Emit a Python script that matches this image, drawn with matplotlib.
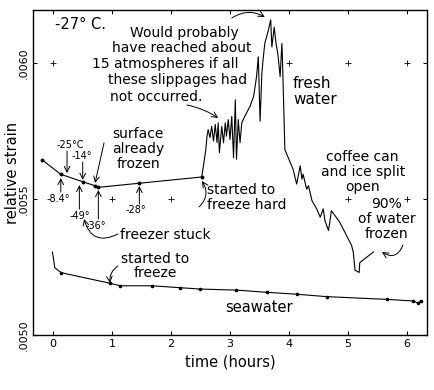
import matplotlib
matplotlib.use("Agg")
import matplotlib.pyplot as plt

# fresh water trace (hours, relative strain)
fresh_t = [-0.18, 0.13, 0.51, 0.71, 0.77, 1.46, 2.52, 2.55, 2.59, 2.61,
           2.63, 2.66, 2.69, 2.72, 2.75, 2.78, 2.80, 2.82, 2.86, 2.89,
           2.92, 2.94, 2.97, 3.00, 3.03, 3.06, 3.09, 3.11, 3.14, 3.17,
           3.20, 3.25, 3.34, 3.40, 3.45, 3.48, 3.51, 3.54, 3.56, 3.59,
           3.65, 3.69, 3.71, 3.75, 3.78, 3.81, 3.85, 3.88, 3.89, 3.93,
           4.07, 4.13, 4.19, 4.22, 4.24, 4.30, 4.33, 4.39, 4.47, 4.53,
           4.58, 4.61, 4.67, 4.72, 4.86, 5.06, 5.09, 5.12, 5.19, 5.20, 5.43]
fresh_y = [0.005643, 0.005591, 0.005563, 0.005549, 0.005543, 0.005558, 0.005581, 0.005622, 0.005682, 0.005731,
           0.005755, 0.005726, 0.005767, 0.005713, 0.005774, 0.005708, 0.005780, 0.005670, 0.005767, 0.005707,
           0.005780, 0.005731, 0.005792, 0.005719, 0.005804, 0.005652, 0.005865, 0.005646, 0.005792, 0.005707,
           0.005780, 0.005804, 0.005841, 0.005877, 0.005950, 0.006023, 0.005786, 0.005962, 0.006011, 0.006072,
           0.006120, 0.006159, 0.006059, 0.006132, 0.006072, 0.006036, 0.005950, 0.006072, 0.006011, 0.005682,
           0.005609, 0.005555, 0.005622, 0.005573, 0.005591, 0.005536, 0.005549, 0.005494, 0.005464, 0.005433,
           0.005464, 0.005420, 0.005384, 0.005457, 0.005415, 0.005330, 0.005305, 0.005238, 0.005230, 0.005266, 0.005305]

# seawater trace
sea_t = [-0.01, 0.03, 0.14, 0.97, 1.14, 1.67, 2.15, 2.49, 3.11, 3.62, 4.13, 4.64, 5.66, 6.11, 6.19, 6.23]
sea_y = [0.005305, 0.005247, 0.005229, 0.005190, 0.005181, 0.005181, 0.005174, 0.005169,
         0.005165, 0.005157, 0.005150, 0.005141, 0.005131, 0.005125, 0.005117, 0.005125]

x_ticks = [0, 1, 2, 3, 4, 5, 6]
y_ticks = [0.0050, 0.0055, 0.0060]
y_labels = [".0050", ".0055", ".0060"]

# "+" marks that are visible on the grid
plus_hi = [0, 4, 5, 6]
plus_lo = [1, 2, 5, 6]

# temperature notes: label, text x, text y, arrow tail, arrow head
temps = [
    ("-25°C", 0.30, 0.0056985, (0.237, 0.0056765), (0.237, 0.0055956)),
    ("-14°", 0.49, 0.0056581, (0.503, 0.0056360), (0.503, 0.0055699)),
    ("-8.4°", 0.08, 0.0055000, (0.131, 0.0055257), (0.131, 0.0055772)),
    ("-49°", 0.46, 0.0054375, (0.446, 0.0054632), (0.446, 0.0055515)),
    ("-36°", 0.72, 0.0054007, (0.768, 0.0054265), (0.768, 0.0055331)),
    ("-28°", 1.41, 0.0054596, (1.463, 0.0054816), (1.463, 0.0055478)),
]

note_lines = ["Would probably", "have reached about", "15 atmospheres if all",
              "these slippages had", "not occurred."]
note_x = [1.305, 1.00, 0.661, 0.932, 0.966]
note_y = [0.0061103, 0.0060551, 0.0059963, 0.0059375, 0.005875]

fig = plt.figure(figsize=(4.35, 3.9), dpi=100)
ax = fig.add_axes([33 / 435, 55 / 390, 394 / 435, 325 / 390])

ax.plot(fresh_t, fresh_y, color="black", lw=0.8)
ax.plot(fresh_t[:7], fresh_y[:7], "o", color="black", ms=1.8)
ax.plot(sea_t, sea_y, color="black", lw=0.8)
ax.plot(sea_t[2:], sea_y[2:], "o", color="black", ms=1.6)

ax.plot(plus_hi, [0.0060] * len(plus_hi), "+", color="black", ms=4, mew=0.6)
ax.plot(plus_lo, [0.0055] * len(plus_lo), "+", color="black", ms=4, mew=0.6)

ax.set_xlim(-0.34, 6.34)
ax.set_ylim(0.0050, 0.006195)
ax.set_xticks(x_ticks)
ax.set_xticklabels([str(v) for v in x_ticks], fontsize=8)
ax.set_yticks(y_ticks)
ax.set_yticklabels(y_labels, rotation=90, va="center", fontsize=8)
ax.tick_params(direction="in", length=3, width=0.8, top=True, right=True, pad=3)
for s in ax.spines.values():
    s.set_linewidth(1.0)

ax.set_xlabel("time (hours)", fontsize=10.5, labelpad=4)
ax.set_ylabel("relative strain", fontsize=10.5, labelpad=-1)

arr = dict(arrowstyle="->", color="black", lw=0.7, shrinkA=0, shrinkB=0)

ax.text(0.03, 0.006140, "-27° C.", fontsize=10.5, va="center")

for line, lx, ly in zip(note_lines, note_x, note_y):
    ax.text(lx, ly, line, fontsize=10, va="center")
ax.annotate("", xy=(2.80, 0.0057978), xytext=(2.27, 0.0058456),
            arrowprops=dict(arr, connectionstyle="arc3,rad=-0.1"))
ax.annotate("", xy=(3.59, 0.0061691), xytext=(3.03, 0.0061654),
            arrowprops=dict(arr, connectionstyle="arc3,rad=-0.3"))

ax.text(1.44, 0.0056838, "surface\nalready\nfrozen", fontsize=10, ha="center",
        va="center", linespacing=1.05)
ax.annotate("", xy=(0.712, 0.0055588), xytext=(0.864, 0.0057059), arrowprops=arr)

for lab, tx, ty, tail, head in temps:
    ax.text(tx, ty, lab, fontsize=7, ha="center", va="center")
    ax.annotate("", xy=head, xytext=tail, arrowprops=arr)

ax.text(1.14, 0.0053676, "freezer stuck", fontsize=10, va="center")
ax.annotate("", xy=(0.525, 0.0054265), xytext=(1.10, 0.0053713),
            arrowprops=dict(arr, connectionstyle="arc3,rad=-0.6"))

ax.text(2.61, 0.0055055, "started to\nfreeze hard", fontsize=10, va="center",
        linespacing=1.1)
ax.annotate("", xy=(2.525, 0.0055662), xytext=(2.475, 0.0054706),
            arrowprops=dict(arr, connectionstyle="arc3,rad=0.4"))

ax.text(4.07, 0.0058952, "fresh\nwater", fontsize=11, va="center", linespacing=1.1)

ax.text(5.25, 0.0055993, "coffee can\nand ice split\nopen", fontsize=10,
        ha="center", va="center", linespacing=1.05)

ax.text(5.66, 0.0054265, "90%\nof water\nfrozen", fontsize=10,
        ha="center", va="center", linespacing=1.05)
ax.annotate("", xy=(5.576, 0.0053051), xytext=(5.932, 0.0053309),
            arrowprops=dict(arr, connectionstyle="arc3,rad=-0.6"))

ax.text(1.73, 0.0052555, "started to\nfreeze", fontsize=10, ha="center",
        va="center", linespacing=1.0)
ax.annotate("", xy=(0.966, 0.0051912), xytext=(1.10, 0.0052537),
            arrowprops=dict(arr, connectionstyle="arc3,rad=0.3"))

ax.text(3.49, 0.0050993, "seawater", fontsize=10.5, ha="center", va="center")

fig.savefig("out.png", dpi=100)
